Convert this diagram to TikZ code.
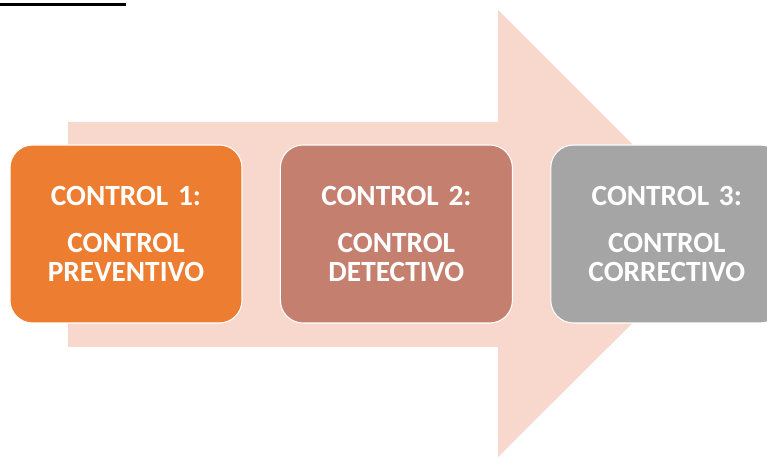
\documentclass[tikz,border=0pt]{standalone}
\usepackage{fontspec}
\usepackage{xcolor}
\usepackage{tikz}
\setmainfont{Carlito}
\definecolor{ctrlorange}{RGB}{237, 125, 49}
\definecolor{ctrlbrown}{RGB}{196, 127, 111}
\definecolor{ctrlgray}{RGB}{165, 165, 165}
\definecolor{flowpink}{RGB}{248, 215, 205}
\usetikzlibrary{positioning}

\begin{document}
\begin{tikzpicture}[
    x=0.75pt, y=0.75pt,
    node distance=28pt,
    ctrlbox/.style={rectangle, draw=white, line width=0.8pt,
                text width=174pt, minimum height=133.5pt, inner sep=0pt,
                align=center, rounded corners=17pt, text=white,
                font=\fontsize{22}{22}\selectfont\bfseries}
]
    \useasboundingbox (0,0) rectangle (767,457);

    % rule at the top left
    \coordinate (rulestart) at (0,452.5);
    \coordinate (ruleend) at (126,452.5);
    \draw[line width=2.25pt] (rulestart) -- (ruleend);

    % big arrow behind the boxes
    \fill[flowpink] (68,110) -- (68,335) -- (498,335) -- (498,447)
        -- (722,223) -- (498,0) -- (498,110) -- cycle;

    \node[ctrlbox, fill=ctrlorange] (ctrlone) at (126,223)
        {CONTROL 1:\\[13pt] CONTROL\\ PREVENTIVO};
    \node[ctrlbox, fill=ctrlbrown, right=of ctrlone] (ctrltwo)
        {CONTROL 2:\\[13pt] CONTROL\\ DETECTIVO};
    \node[ctrlbox, fill=ctrlgray, right=of ctrltwo] (ctrlthree)
        {CONTROL 3:\\[13pt] CONTROL\\ CORRECTIVO};
\end{tikzpicture}
\end{document}
